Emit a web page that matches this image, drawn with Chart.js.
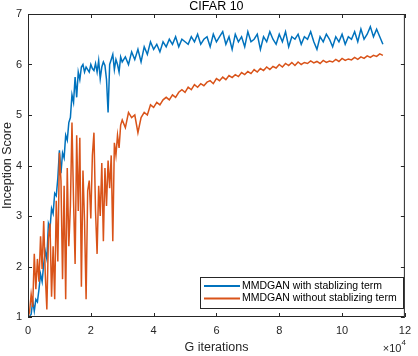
<!DOCTYPE html>
<html>
<head>
<meta charset="utf-8">
<script src="https://cdn.jsdelivr.net/npm/chart.js@4/dist/chart.umd.min.js"></script>
<style>
    html, body { margin: 0; padding: 0; background: #fff; }
    #box { width: 418px; height: 356px; position: relative; }
</style>
</head>
<body>
<div id="box"><canvas id="isChart"></canvas></div>
<script>
// G iterations, in units of 1e4
const gIters = [
    0.00, 0.05, 0.10, 0.15, 0.20, 0.25, 0.30, 0.35, 0.40, 0.45,
    0.50, 0.55, 0.60, 0.65, 0.70, 0.75, 0.80, 0.85, 0.90, 0.95,
    1.00, 1.05, 1.10, 1.15, 1.20, 1.25, 1.30, 1.35, 1.40, 1.45,
    1.50, 1.55, 1.60, 1.65, 1.70, 1.75, 1.80, 1.85, 1.90, 1.95,
    2.00, 2.05, 2.10, 2.15, 2.20, 2.25, 2.30, 2.35, 2.40, 2.45,
    2.50, 2.55, 2.60, 2.65, 2.70, 2.75, 2.80, 2.85, 2.90, 2.95,
    3.00, 3.1, 3.2, 3.3, 3.4, 3.5, 3.6, 3.7, 3.8, 3.9,
    4.0, 4.1, 4.2, 4.3, 4.4, 4.5, 4.6, 4.7, 4.8, 4.9,
    5.0, 5.1, 5.2, 5.3, 5.4, 5.5, 5.6, 5.7, 5.8, 5.9,
    6.0, 6.1, 6.2, 6.3, 6.4, 6.5, 6.6, 6.7, 6.8, 6.9,
    7.0, 7.1, 7.2, 7.3, 7.4, 7.5, 7.6, 7.7, 7.8, 7.9,
    8.0, 8.1, 8.2, 8.3, 8.4, 8.5, 8.6, 8.7, 8.8, 8.9,
    9.0, 9.1, 9.2, 9.3, 9.4, 9.5, 9.6, 9.7, 9.8, 9.9,
    10.0, 10.1, 10.2, 10.3, 10.4, 10.5, 10.6, 10.7, 10.8, 10.9,
    11.0, 11.1, 11.2, 11.3
];

const withStab = [
    null, 1.02, 1.05, 1.32, 1.12, 1.35, 1.30, 1.55, 1.85, 1.70,
    2.05, 2.30, 2.15, 2.85, 2.75, 3.15, 3.05, 3.45, 3.40, 3.75,
    4.30, 3.85, 4.25, 4.15, 4.60, 4.50, 4.85, 4.95, 5.40, 5.25,
    5.75, 5.35, 5.85, 5.70, 5.95, 6.00, 5.85, 5.95, 5.90, 5.85,
    6.00, 5.92, 5.88, 6.02, 5.85, 6.08, 5.72, 5.95, 6.05, 5.98,
    5.70, 5.05, 6.00, 6.10, 6.20, 5.90, 6.10, 6.00, 5.85, 6.15,
    6.05, 6.15, 6.00, 6.25, 6.10, 6.30, 6.05, 6.35, 6.20, 6.45,
    6.30, 6.40, 6.25, 6.45, 6.35, 6.50, 6.40, 6.55, 6.35, 6.50,
    6.45, 6.40, 6.55, 6.45, 6.60, 6.40, 6.50, 6.55, 6.35, 6.60,
    6.45, 6.55, 6.65, 6.40, 6.55, 6.30, 6.60, 6.45, 6.55, 6.35,
    6.65, 6.45, 6.50, 6.60, 6.30, 6.55, 6.45, 6.65, 6.50, 6.40,
    6.60, 6.45, 6.65, 6.35, 6.55, 6.50, 6.60, 6.40, 6.55, 6.50,
    6.65, 6.45, 6.30, 6.55, 6.45, 6.60, 6.50, 6.35, 6.55, 6.45,
    6.60, 6.40, 6.55, 6.50, 6.65, 6.45, 6.70, 6.50, 6.60, 6.75,
    6.55, 6.70, 6.55, 6.40
];

const withoutStab = [
    1.00, 1.10, 1.45, 1.20, 2.25, 1.55, 2.15, 1.70, 2.60, 1.95,
    2.90, 1.85, 1.15, 2.55, 2.85, 1.40, 2.40, 1.35, 3.30, 2.10,
    4.25, 3.70, 1.75, 3.60, 1.35, 3.95, 2.40, 3.20, 4.85, 3.30,
    2.05, 4.60, 3.10, 4.55, 1.60, 3.90, 2.90, 1.35, 3.50, 3.70,
    2.95, 4.20, 4.65, 3.10, 2.25, 3.60, 3.00, 4.05, 2.50, 3.95,
    3.20, 4.10, 3.55, 4.20, 2.50, 4.45, 4.20, 4.60, 4.35, 4.80,
    4.90, 4.75, 5.05, 4.95, 5.00, 4.65, 4.95, 5.05, 5.00, 5.20,
    5.15, 5.25, 5.20, 5.30, 5.35, 5.30, 5.40, 5.35, 5.45, 5.50,
    5.45, 5.55, 5.50, 5.60, 5.55, 5.62, 5.58, 5.65, 5.68, 5.62,
    5.72, 5.68, 5.75, 5.70, 5.78, 5.74, 5.80, 5.76, 5.84, 5.80,
    5.86, 5.82, 5.90, 5.85, 5.92, 5.88, 5.95, 5.90, 5.96, 5.93,
    6.00, 5.95, 6.02, 5.98, 6.04, 5.98, 6.05, 6.00, 6.04, 6.02,
    6.07, 6.03, 6.06, 6.02, 6.08, 6.04, 6.07, 6.05, 6.10, 6.06,
    6.12, 6.08, 6.11, 6.09, 6.14, 6.10, 6.15, 6.12, 6.17, 6.14,
    6.18, 6.16, 6.21, 6.18
];

const seriesNames = ['MMDGAN with stablizing term', 'MMDGAN without stablizing term'];
const seriesColors = ['#0072BD', '#D95319'];
const xTicks = [0, 2, 4, 6, 8, 10, 12];
const yTicks = [1, 2, 3, 4, 5, 6, 7];

const axisColor = '#262626';
const fontFam = '"Liberation Sans", Arial, Helvetica, sans-serif';

function toPoints(ys) {
    return gIters.map((x, i) => ({ x: x, y: ys[i] }));
}

// matlab style box, inward ticks, title, exponent and legend
const matlabAxes = {
    id: 'matlabAxes',
    afterDraw(chart) {
        const ctx = chart.ctx;
        const a = chart.chartArea;
        const xs = chart.scales.x;
        const ys = chart.scales.y;
        ctx.save();
        ctx.strokeStyle = axisColor;
        ctx.lineWidth = 1;
        ctx.strokeRect(a.left + 0.5, a.top + 0.5, a.right - a.left - 1, a.bottom - a.top - 1);
        ctx.beginPath();
        xTicks.forEach(t => {
            const px = Math.round(xs.getPixelForValue(t)) + 0.5;
            ctx.moveTo(px, a.bottom); ctx.lineTo(px, a.bottom - 4);
            ctx.moveTo(px, a.top); ctx.lineTo(px, a.top + 4);
        });
        yTicks.forEach(t => {
            const py = Math.round(ys.getPixelForValue(t)) + 0.5;
            ctx.moveTo(a.left, py); ctx.lineTo(a.left + 4, py);
            ctx.moveTo(a.right, py); ctx.lineTo(a.right - 4, py);
        });
        ctx.stroke();

        ctx.fillStyle = '#000';
        ctx.font = '12.5px ' + fontFam;
        ctx.textAlign = 'center';
        ctx.textBaseline = 'middle';
        ctx.fillText('CIFAR 10', (a.left + a.right) / 2, 7);

        // x10^4 exponent
        ctx.fillStyle = axisColor;
        ctx.textAlign = 'right';
        ctx.font = '8px ' + fontFam;
        ctx.fillText('4', a.right + 1, 343);
        const w4 = ctx.measureText('4').width;
        ctx.font = '11px ' + fontFam;
        ctx.fillText('\u00d710', a.right + 1 - w4, 349);

        // legend box
        const lx = 200, ly = 277, lw = 203, lh = 31;
        ctx.fillStyle = '#fff';
        ctx.fillRect(lx, ly, lw, lh);
        ctx.strokeStyle = axisColor;
        ctx.lineWidth = 1;
        ctx.strokeRect(lx + 0.5, ly + 0.5, lw, lh);
        ctx.font = '10.5px ' + fontFam;
        ctx.textAlign = 'left';
        seriesNames.forEach((name, i) => {
            const yy = ly + 9 + i * 12.5;
            ctx.strokeStyle = seriesColors[i];
            ctx.lineWidth = 2;
            ctx.beginPath();
            ctx.moveTo(lx + 4, yy); ctx.lineTo(lx + 40, yy);
            ctx.stroke();
            ctx.fillStyle = '#000';
            ctx.fillText(name, lx + 42, yy);
        });
        ctx.restore();
    }
};

function ISChart() {
    const ctx = document.getElementById('isChart').getContext('2d');

    const data = {
        datasets: [
            {
                label: seriesNames[0],
                data: toPoints(withStab),
                borderColor: seriesColors[0],
                borderWidth: 1.5,
                pointRadius: 0,
                order: 2
            },
            {
                label: seriesNames[1],
                data: toPoints(withoutStab),
                borderColor: seriesColors[1],
                borderWidth: 1.5,
                pointRadius: 0,
                order: 1
            }
        ]
    };

    const options = {
        responsive: true,
        maintainAspectRatio: false,
        animation: false,
        layout: { padding: { top: 14, right: 6, left: 0, bottom: 0 } },
        plugins: {
            legend: { display: false },
            tooltip: { enabled: false },
            title: { display: false }
        },
        scales: {
            x: {
                type: 'linear',
                min: 0,
                max: 12,
                grid: { display: false, drawTicks: false },
                border: { display: false },
                ticks: {
                    stepSize: 2,
                    padding: 7,
                    color: axisColor,
                    font: { family: fontFam, size: 11 },
                    maxRotation: 0
                },
                title: {
                    display: true,
                    text: 'G iterations',
                    color: axisColor,
                    padding: { top: 0, bottom: 1 },
                    font: { family: fontFam, size: 12.5 }
                },
                afterFit(scale) { scale.height = 39; }
            },
            y: {
                min: 1,
                max: 7,
                grid: { display: false, drawTicks: false },
                border: { display: false },
                ticks: {
                    stepSize: 1,
                    padding: 6,
                    color: axisColor,
                    font: { family: fontFam, size: 11 }
                },
                title: {
                    display: true,
                    text: 'Inception Score',
                    color: axisColor,
                    padding: 0,
                    font: { family: fontFam, size: 12.5 }
                },
                afterFit(scale) { scale.width = 28; }
            }
        }
    };

    new Chart(ctx, { type: 'line', data: data, options: options, plugins: [matlabAxes] });
}

ISChart();
</script>
</body>
</html>
